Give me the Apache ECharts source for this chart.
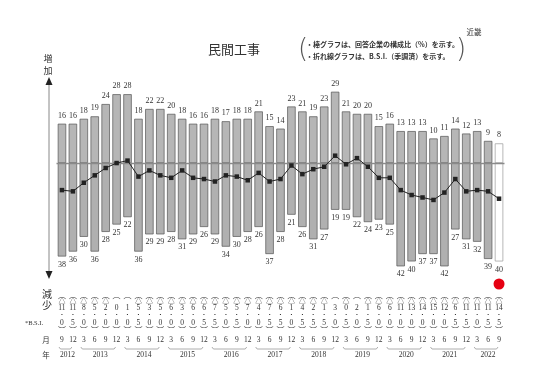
<!DOCTYPE html>
<html><head><meta charset="utf-8">
<script src="https://cdn.jsdelivr.net/npm/echarts@6/dist/echarts.min.js"></script>
<style>html,body{margin:0;padding:0;background:#fff}#c{width:550px;height:389px}</style>
</head><body><div id="c"></div>
<script>
// ---- data ----
const months = [9,12, 3,6,9,12, 3,6,9,12, 3,6,9,12, 3,6,9,12, 3,6,9,12, 3,6,9,12, 3,6,9,12, 3,6,9,12, 3,6,9,12, 3,6,9];
const yearLabels = ['2012','2013','2014','2015','2016','2017','2018','2019','2020','2021','2022'];
const yearStart = [0,2,6,10,14,18,22,26,30,34,38];
const yearEnd   = [1,5,9,13,17,21,25,29,33,37,40];
const upValues = [16,16,18,19,24,28,28, 18,22,22,20,18,16,16, 18,17,18,18,21,15,14, 23,21,19,23,29,21,20,20, 15,16,13,13,13,10,11,14,12,13,9,8];
const downValues = [38,36,30,36,28,25,22, 36,29,29,28,31,29,26, 29,34,30,28,26,37,28, 21,26,31,27,19,19,22,24, 23,25,42,40,37,37,42,27,31,32,39,40];
const bsiValues = [-11.0,-11.5,-8.0,-5.0,-2.0,0.0,1.0,-5.5,-3.0,-5.0,-6.0,-3.0,-6.0,-6.5,-7.5,-5.0,-5.5,-7.0,-4.0,-7.5,-6.5,-1.0,-4.5,-2.5,-1.5,3.0,-0.5,2.0,-1.5,-6.0,-6.0,-11.0,-13.0,-14.0,-15.0,-12.0,-6.5,-11.5,-11.0,-11.5,-14.5];

const n = upValues.length;
const cats = months.map((m,i)=>String(i));
const SERIF = "'Liberation Serif','Noto Sans CJK JP',serif";
const JP = "'Noto Sans CJK JP',sans-serif";

function rowAxis(offset, fmt, opts) {
  return Object.assign({
    type:'category', data:cats, gridIndex:0, position:'bottom', offset:offset,
    axisLine:{show:false}, axisTick:{show:false}, splitLine:{show:false},
    axisLabel:{interval:0, margin:0, verticalAlign:'middle', fontSize:7.5, color:'#333', fontFamily:SERIF,
      formatter:(v,i)=>fmt(i)}
  }, opts||{});
}
const yearCats = Array.from({length:2*n+1},(_,k)=>String(k));
const yearAt = {};
yearLabels.forEach((y,j)=>{ yearAt[yearStart[j]+yearEnd[j]+1] = y; });

const xAxes = [
  {type:'category', data:cats, gridIndex:0, position:'bottom', axisLine:{show:false}, axisTick:{show:false}, axisLabel:{show:false}},
  rowAxis(9, i=>'︵', {axisLabel:{interval:0, margin:0, verticalAlign:'middle', fontSize:8, color:'#444', fontFamily:JP, formatter:(v,i)=>'︵'}}),
  rowAxis(14, i=>bsiValues[i]<0?'△':'', {axisLabel:{interval:0, margin:0, verticalAlign:'middle', fontSize:7, color:'#333', fontFamily:JP, formatter:(v,i)=>bsiValues[i]<0?'△':''}}),
  rowAxis(22, i=>String(Math.floor(Math.abs(bsiValues[i])))),
  rowAxis(29, i=>'•', {axisLabel:{interval:0, margin:0, verticalAlign:'middle', fontSize:4, color:'#333', fontFamily:'DejaVu Sans', formatter:()=>'•'}}),
  rowAxis(37, i=>String(Math.round(Math.abs(bsiValues[i])*10)%10)),
  rowAxis(44, i=>'︶', {axisLabel:{interval:0, margin:0, verticalAlign:'middle', fontSize:8, color:'#444', fontFamily:JP, formatter:(v,i)=>'︶'}}),
  rowAxis(54, i=>String(months[i])),
  {type:'category', data:yearCats, boundaryGap:false, gridIndex:0, position:'bottom', offset:69,
    axisLine:{show:false}, axisTick:{show:false},
    axisLabel:{interval:0, margin:0, verticalAlign:'middle', fontSize:7.5, color:'#333', fontFamily:SERIF,
      formatter:(v,k)=>yearAt[k]||''}}
];

const chart = echarts.init(document.getElementById('c'), null, {renderer:'canvas'});
const labelStyle = {fontSize:8, color:'#333', fontFamily:SERIF};
chart.setOption({
  animation:false,
  backgroundColor:'#fff',
  grid:{left:56.5, right:45.5, top:77, bottom:103},
  xAxis:xAxes,
  yAxis:{type:'value', min:-50, max:35, show:false},
  series:[
    {type:'bar', name:'増加', barWidth:8.4, barGap:'-100%',
     data:upValues.map((v,i)=> i===n-1 ? {value:v, itemStyle:{color:'#fff', borderColor:'#999'}} : v),
     itemStyle:{color:'#b6b6b6', borderColor:'#555', borderWidth:0.7},
     label:Object.assign({show:true, position:'top', distance:4}, labelStyle)},
    {type:'bar', name:'減少', barWidth:8.4, barGap:'-100%',
     data:downValues.map((v,i)=> i===n-1 ? {value:-v, itemStyle:{color:'#fff', borderColor:'#999'}} : -v),
     itemStyle:{color:'#b0b0b0', borderColor:'#555', borderWidth:0.7},
     label:Object.assign({show:true, position:'bottom', distance:4, formatter:p=>String(Math.abs(p.value))}, labelStyle)},
    {type:'line', name:'B.S.I.', data:bsiValues, symbol:'rect', symbolSize:4.5, z:5,
     lineStyle:{color:'#222', width:1}, itemStyle:{color:'#222'},
     markLine:{silent:true, symbol:'none', label:{show:false}, lineStyle:{color:'#8a8a8a', width:1.3, type:'solid'},
       data:[{yAxis:0}]}}
  ]
});

// decorations
const g = [];
function txt(x,y,s,size,opt){ g.push({type:'text', x:x, y:y, style:Object.assign({text:s, fontSize:size, fill:'#333', fontFamily:JP, textAlign:'center', textVerticalAlign:'middle'}, opt||{})}); }
txt(234,49,'民間工事',13,{fill:'#333'});
txt(306,44,'・棒グラフは、回答企業の構成比（%）を示す。',7,{textAlign:'left', fontWeight:'bold', fill:'#333'});
txt(306,56,'・折れ線グラフは、B.S.I.（季調済）を示す。',7,{textAlign:'left', fontWeight:'bold', fill:'#333'});
txt(303,50,'(',26,{fontFamily:"'DejaVu Sans'", fill:'#555', fontWeight:'lighter'});
txt(461,50,')',26,{fontFamily:"'DejaVu Sans'", fill:'#555', fontWeight:'lighter'});
txt(474,32,'近畿',7.5);
txt(48,59,'増',9); txt(48,71,'加',9);
txt(47,294,'減',10); txt(47,305,'少',10);
txt(34,323,'*B.S.I.',6.5,{fontFamily:SERIF});
txt(46,340,'月',7.5); txt(46,355,'年',7.5);
g.push({type:'line', shape:{x1:49,y1:84,x2:49,y2:272}, style:{stroke:'#888', lineWidth:1}});
g.push({type:'polygon', shape:{points:[[49,77],[45.5,85],[52.5,85]]}, style:{fill:'#222'}});
g.push({type:'polygon', shape:{points:[[49,279],[45.5,271],[52.5,271]]}, style:{fill:'#222'}});
// year brackets
yearLabels.forEach((y,j)=>{
  const xa = chart.convertToPixel({xAxisIndex:0}, String(yearStart[j])) - 3;
  const xb = chart.convertToPixel({xAxisIndex:0}, String(yearEnd[j])) - 1;
  g.push({type:'polyline', shape:{points:[[xa,347],[xa+1.5,349],[xb-1.5,349],[xb,347]]}, style:{stroke:'#999', lineWidth:0.8, fill:null}});
});
// forecast marker
const xl = chart.convertToPixel({xAxisIndex:0}, String(n-1));
g.push({type:'circle', shape:{cx:xl, cy:284, r:5.5}, style:{fill:'#e60012'}});
chart.setOption({graphic:g});
</script></body></html>
